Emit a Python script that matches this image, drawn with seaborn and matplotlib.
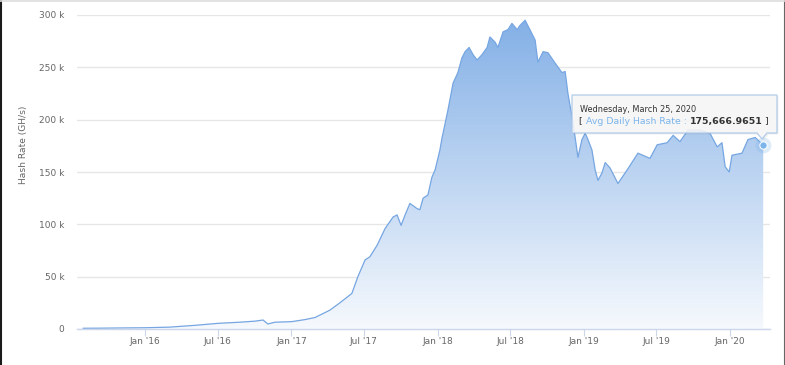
import numpy as np
import pandas as pd
import matplotlib
matplotlib.use("Agg")
import matplotlib.pyplot as plt
import matplotlib.dates as mdates
from matplotlib.colors import LinearSegmentedColormap
from matplotlib.patches import Polygon
from matplotlib.lines import Line2D
from matplotlib.ticker import FuncFormatter
import seaborn as sns

# ── data (k GH/s) ────────────────────────────────────────────
dates = [
    "2015-07-30", "2015-09-11", "2015-10-31", "2016-01-01", "2016-03-03",
    "2016-05-05", "2016-07-01", "2016-08-25", "2016-10-02", "2016-10-22",
    "2016-11-03", "2016-11-21", "2017-01-01", "2017-02-04", "2017-03-01",
    "2017-04-07", "2017-05-02", "2017-06-01", "2017-06-16", "2017-07-04",
    "2017-07-16", "2017-08-03", "2017-08-23", "2017-09-12", "2017-09-22",
    "2017-10-02", "2017-10-12", "2017-10-24", "2017-11-11", "2017-11-18",
    "2017-11-26", "2017-12-08", "2017-12-18", "2017-12-26", "2018-01-07",
    "2018-01-12", "2018-01-27", "2018-02-09", "2018-02-21", "2018-03-03",
    "2018-03-11", "2018-03-21", "2018-03-31", "2018-04-10", "2018-04-22",
    "2018-05-05", "2018-05-12", "2018-05-25", "2018-06-01", "2018-06-14",
    "2018-06-26", "2018-07-06", "2018-07-19", "2018-07-26", "2018-08-08",
    "2018-08-20", "2018-09-02", "2018-09-09", "2018-09-22", "2018-10-04",
    "2018-10-22", "2018-11-08", "2018-11-16", "2018-11-23", "2018-12-03",
    "2018-12-11", "2018-12-18", "2018-12-28", "2019-01-05", "2019-01-12",
    "2019-01-22", "2019-01-30", "2019-02-06", "2019-02-16", "2019-02-24",
    "2019-03-08", "2019-03-28", "2019-04-20", "2019-05-17", "2019-06-16",
    "2019-07-04", "2019-07-29", "2019-08-13", "2019-08-30", "2019-09-19",
    "2019-10-19", "2019-11-13", "2019-12-01", "2019-12-13", "2019-12-21",
    "2019-12-31", "2020-01-07", "2020-02-01", "2020-02-16", "2020-03-05",
    "2020-03-25",
]
hash_k = [
    0.7, 0.8, 1.0, 1.2, 1.8,
    3.5, 5.4, 6.5, 7.5, 8.6,
    4.8, 6.5, 7.0, 9.0, 11.0,
    18.0, 25.0, 34.0, 50.0, 66.0,
    69.0, 80.0, 96.0, 107.0, 109.0,
    99.0, 109.0, 120.0, 115.0, 114.0,
    125.0, 128.0, 145.0, 152.0, 171.0,
    182.0, 209.0, 235.0, 245.0, 259.0,
    265.0, 269.0, 262.0, 257.0, 262.0,
    269.0, 279.0, 274.0, 269.0, 284.0,
    286.0, 292.0, 286.0, 290.0, 295.0,
    286.0, 276.0, 255.0, 265.0, 264.0,
    254.0, 245.0, 246.0, 225.0, 203.0,
    183.0, 164.0, 181.0, 187.0, 181.0,
    171.0, 152.0, 142.0, 149.0, 159.0,
    154.0, 139.0, 152.0, 168.0, 163.0,
    176.0, 178.0, 185.0, 179.0, 190.0,
    190.0, 187.0, 174.0, 178.0, 155.0,
    150.0, 166.0, 168.0, 181.0, 183.0,
    175.667,
]
tick_dates = ["2016-01-01", "2016-07-01", "2017-01-01", "2017-07-01", "2018-01-01",
              "2018-07-01", "2019-01-01", "2019-07-01", "2020-01-01"]
tick_labels = ["Jan '16", "Jul '16", "Jan '17", "Jul '17", "Jan '18",
               "Jul '18", "Jan '19", "Jul '19", "Jan '20"]
y_ticks = [0, 50, 100, 150, 200, 250, 300]

tip_header = "Wednesday, March 25, 2020"
tip_name = "Avg Daily Hash Rate"
tip_value = "175,666.9651"

df = pd.DataFrame({"date": pd.to_datetime(dates), "hash": hash_k})

sns.set_theme(style="white")
plt.rcParams["font.family"] = ["DejaVu Sans"]

W, H = 785, 365
fig = plt.figure(figsize=(W / 100, H / 100), dpi=100)
ax = fig.add_axes([77 / W, 1 - 329 / H, (770 - 77) / W, (329 - 15) / H])

def px(x, y):
    return (x / W, 1 - y / H)

# ── area with vertical gradient ──────────────────────────────
x0 = mdates.date2num(pd.Timestamp("2015-07-15"))
x1 = mdates.date2num(pd.Timestamp("2020-04-11"))
poly = ax.fill_between(mdates.date2num(df["date"]), 0, df["hash"], color="none", lw=0)
cmap = LinearSegmentedColormap.from_list("g", ["#f6f9fd", "#82afe6"])
grad = np.linspace(0, 1, 256).reshape(-1, 1)
im = ax.imshow(grad, extent=[x0, x1, 0, 300], origin="lower", cmap=cmap,
               aspect="auto", zorder=2)
im.set_clip_path(poly.get_paths()[0], transform=ax.transData)

sns.lineplot(data=df, x="date", y="hash", ax=ax, color="#76a6e2", lw=0.9, zorder=3)

# ── axes styling ─────────────────────────────────────────────
ax.set_xlim(x0, x1)
ax.set_ylim(0, 300)
ax.set_yticks(y_ticks)
ax.yaxis.set_major_formatter(FuncFormatter(lambda v, p: "0" if v == 0 else f"{v:.0f} k"))
ax.set_xticks(mdates.date2num(pd.to_datetime(tick_dates)))
ax.set_xticklabels(tick_labels)
ax.yaxis.grid(True, color="#e6e6e6", lw=1)
ax.xaxis.grid(False)
for s in ["top", "right", "left"]:
    ax.spines[s].set_visible(False)
ax.spines["bottom"].set_color("#ccd6eb")
ax.spines["bottom"].set_linewidth(1)
ax.spines["bottom"].set_zorder(4)
ax.tick_params(axis="x", direction="out", length=5, width=0.8, color="#ccd6eb",
               labelcolor="#666666", labelsize=6.5, pad=1, bottom=True)
ax.tick_params(axis="y", length=0, labelcolor="#666666", labelsize=6.5, pad=9)
ax.set_xlabel("")
ax.set_ylabel("Hash Rate (GH/s)", color="#666666", fontsize=6.6)
ax.yaxis.set_label_coords(-0.0707, 0.586)

# ── hover point ──────────────────────────────────────────────
last = df.iloc[-1]
ax.scatter([mdates.date2num(last["date"])], [last["hash"]], s=130, color="#7cb5ec",
           alpha=0.25, lw=0, zorder=5, clip_on=False)
ax.scatter([mdates.date2num(last["date"])], [last["hash"]], s=28, color="#7cb5ec",
           edgecolor="white", lw=0.7, zorder=6, clip_on=False)

# ── tooltip ──────────────────────────────────────────────────
box = [px(572, 95), px(777, 95), px(777, 133), px(767, 133), px(762, 139),
       px(757, 133), px(572, 133)]
shadow = [(a + 1.5 / W, b - 1.5 / H) for a, b in box]
fig.add_artist(Polygon(shadow, closed=True, transform=fig.transFigure,
                       facecolor="#000000", alpha=0.06, lw=0, zorder=7))
fig.add_artist(Polygon(box, closed=True, transform=fig.transFigure,
                       facecolor="#f7f7f7", edgecolor="#a9c6e8", alpha=0.88, lw=0.9,
                       zorder=8))

fig.text(*px(580, 109), tip_header, fontsize=5.9, color="#333333",
         va="center", ha="left", zorder=9)

renderer = fig.canvas.get_renderer()
parts = [("[ ", "#333333", "normal"), (tip_name + " : ", "#7cb5ec", "normal"),
         (tip_value, "#333333", "bold"), (" ]", "#333333", "normal")]
cur = 579
for txt, col, wt in parts:
    t = fig.text(*px(cur, 121), txt, fontsize=6.75, color=col, fontweight=wt,
                 va="center", ha="left", zorder=9)
    bb = t.get_window_extent(renderer=renderer)
    cur += bb.width

# ── window border ────────────────────────────────────────────
fig.add_artist(Line2D([1 / W, 1 / W], [0, 1], color="#1a1a1a", lw=1.5))
fig.add_artist(Line2D([784 / W, 784 / W], [0, 1], color="#666666", lw=0.8))
fig.add_artist(Line2D([0, 1], [1 - 0.5 / H, 1 - 0.5 / H], color="#dddddd", lw=1.2))

fig.savefig("out.png", dpi=100)
